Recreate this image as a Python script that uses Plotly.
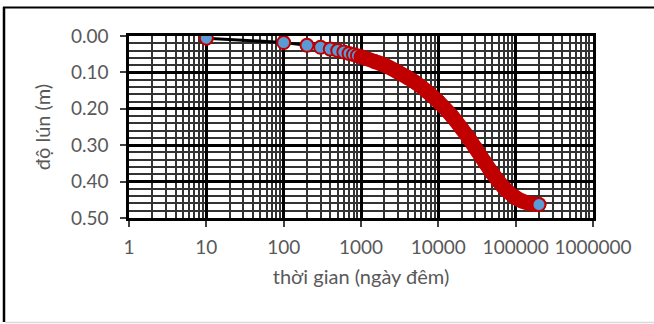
import plotly.graph_objects as go

# time (days) and settlement (m)
t_days = [10, 100, 200, 300, 400, 500, 600, 700, 800, 900,
          1000, 1500, 2000, 3000, 4000, 5000, 7000, 10000, 15000,
          20000, 25000, 30000, 40000, 50000, 60000, 70000, 80000,
          100000, 120000, 150000, 200000]
settle_m = [0.006, 0.018, 0.0255, 0.031, 0.036, 0.040, 0.044, 0.048, 0.051, 0.054,
            0.057, 0.070, 0.080, 0.099, 0.114, 0.127, 0.151, 0.180, 0.220,
            0.254, 0.282, 0.307, 0.347, 0.377, 0.399, 0.416, 0.428,
            0.444, 0.453, 0.460, 0.463]

x_ticks = [1, 10, 100, 1000, 10000, 100000, 1000000]
x_ticktext = ["1", "10", "100", "1000", "10000", "100000", "1000000"]
x_title = "thời gian (ngày đêm)"
y_title = "độ lún (m)"

RED = "#C00000"
BLUE = "#5B9BD5"
GRAY_TXT = "#595959"
FONT = "Lato, Noto Sans, sans-serif"

dense_from = 1000
early_t = [t for t in t_days if t < dense_from]
early_s = [s for t, s in zip(t_days, settle_m) if t < dense_from]
band_t = [t for t in t_days if t >= dense_from]
band_s = [s for t, s in zip(t_days, settle_m) if t >= dense_from]

fig = go.Figure()
fig.add_trace(go.Scatter(x=t_days, y=settle_m, mode="lines",
                         line=dict(color="black", width=3), hoverinfo="skip"))
fig.add_trace(go.Scatter(x=early_t, y=early_s, mode="markers",
                         marker=dict(size=13, color=BLUE, line=dict(color=RED, width=2))))
fig.add_trace(go.Scatter(x=band_t, y=band_s, mode="lines+markers",
                         line=dict(color=RED, width=15, shape="spline"),
                         marker=dict(size=13, color=RED, line=dict(color=RED, width=2))))
fig.add_trace(go.Scatter(x=t_days[-1:], y=settle_m[-1:], mode="markers",
                         marker=dict(size=13, color=BLUE, line=dict(color=RED, width=2))))

W, H = 654, 324
L, R, T, B = 129, 61, 36, 106
pw, ph = W - L - R, H - T - B

def px(xp):
    return (xp - L) / pw

def py(yp):
    return (H - B - yp) / ph

TICK_SIZE = 19
TITLE_SIZE = 20

fig.update_layout(
    width=W, height=H,
    margin=dict(l=L, r=R, t=T, b=B, pad=0, autoexpand=False),
    paper_bgcolor="white", plot_bgcolor="white",
    showlegend=False,
    font=dict(family=FONT, size=TICK_SIZE, color=GRAY_TXT),
    xaxis=dict(
        type="log", range=[0, 6], automargin=False, tickangle=0,
        tickvals=x_ticks, ticktext=x_ticktext,
        showgrid=True, gridcolor="black", gridwidth=2.5,
        minor=dict(dtick="D1", showgrid=True, gridcolor="#333333", gridwidth=1.6, ticks=""),
        showline=True, linecolor="black", linewidth=2.5, mirror=True,
        ticks="outside", ticklen=6, tickcolor="#404040", tickwidth=1.5,
        ticklabelstandoff=4,
        tickfont=dict(family=FONT, size=TICK_SIZE, color=GRAY_TXT),
        title=dict(text=x_title, standoff=14, font=dict(family=FONT, size=TITLE_SIZE, color=GRAY_TXT)),
        zeroline=False,
    ),
    yaxis=dict(
        range=[0.5, 0], dtick=0.1, tick0=0, tickformat=".2f", automargin=False,
        showgrid=True, gridcolor="black", gridwidth=2.5,
        minor=dict(dtick=0.02, showgrid=True, gridcolor="#333333", gridwidth=1.6, ticks=""),
        showline=True, linecolor="black", linewidth=2.5, mirror=True,
        ticks="outside", ticklen=6, tickcolor="#404040", tickwidth=1.5,
        ticklabelstandoff=8,
        tickfont=dict(family=FONT, size=TICK_SIZE, color=GRAY_TXT),
        title=dict(text=y_title, standoff=15, font=dict(family=FONT, size=TITLE_SIZE, color=GRAY_TXT)),
        zeroline=False,
    ),
    shapes=[
        dict(type="line", xref="paper", yref="paper", x0=px(3), x1=px(654), y0=py(7.5), y1=py(7.5),
             line=dict(color="black", width=2)),
        dict(type="line", xref="paper", yref="paper", x0=px(4), x1=px(4), y0=py(7), y1=py(322),
             line=dict(color="black", width=2.5)),
        dict(type="line", xref="paper", yref="paper", x0=px(5), x1=px(654), y0=py(322.5), y1=py(322.5),
             line=dict(color="#d9d9d9", width=1.5)),
    ],
)

fig.write_html("out.html")
